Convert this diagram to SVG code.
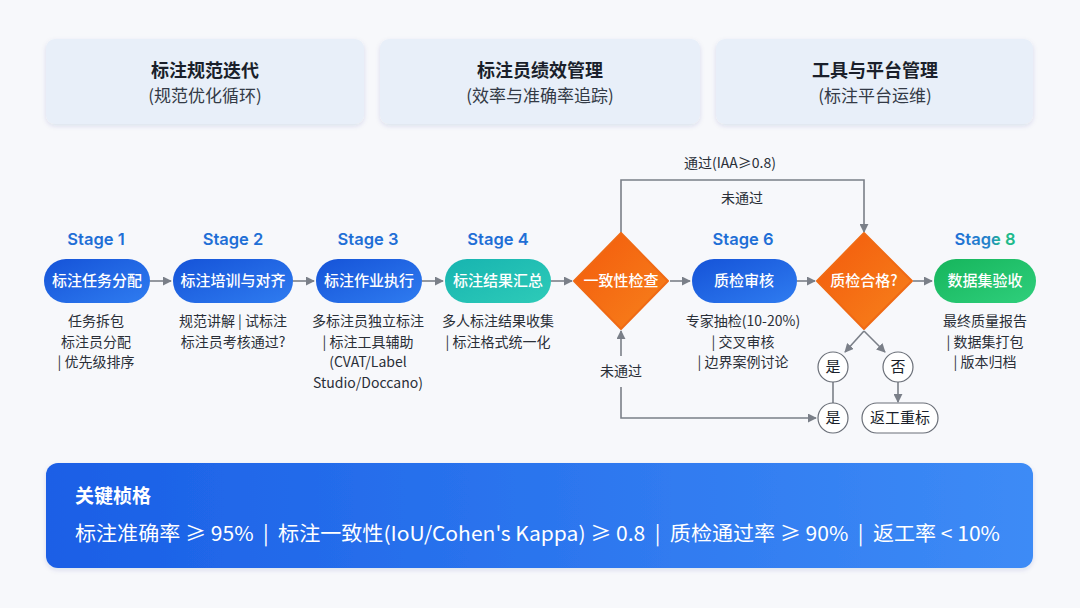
<svg xmlns="http://www.w3.org/2000/svg" width="1080" height="608" viewBox="0 0 1080 608">
<defs>
<linearGradient id="gBlue" x1="0" y1="0" x2="1" y2="1"><stop offset="0" stop-color="#1553d8"/><stop offset="1" stop-color="#2f7cf0"/></linearGradient>
<linearGradient id="gTeal" x1="0" y1="0" x2="1" y2="1"><stop offset="0" stop-color="#17b4b0"/><stop offset="1" stop-color="#2ecbb8"/></linearGradient>
<linearGradient id="gOrange" x1="0" y1="0" x2="1" y2="1"><stop offset="0" stop-color="#f35a0c"/><stop offset="1" stop-color="#f7821c"/></linearGradient>
<linearGradient id="gGreen" x1="0" y1="0" x2="1" y2="1"><stop offset="0" stop-color="#16b55c"/><stop offset="1" stop-color="#2fcf7c"/></linearGradient>
<linearGradient id="gPanel" x1="0" y1="0" x2="1" y2="0"><stop offset="0" stop-color="#1a5fe6"/><stop offset="1" stop-color="#3d8bf6"/></linearGradient>
<linearGradient id="gStage8" x1="0" y1="0" x2="1" y2="0"><stop offset="0" stop-color="#1f6fd6"/><stop offset="0.6" stop-color="#2585c8"/><stop offset="0.75" stop-color="#1fb98a"/><stop offset="1" stop-color="#1fb98a"/></linearGradient>
<filter id="sh" x="-10%" y="-10%" width="120%" height="130%"><feDropShadow dx="0" dy="2" stdDeviation="2.5" flood-color="#1a3a80" flood-opacity="0.12"/></filter>
<marker id="ah" viewBox="0 0 10 10" refX="9" refY="5" markerWidth="9" markerHeight="9" markerUnits="userSpaceOnUse" orient="auto"><path d="M0,0 L10,5 L0,10 z" fill="#7a7f88"/></marker>
</defs>
<style>
text{font-family:"Noto Sans CJK SC","Noto Sans",sans-serif;}
.topbox{fill:#e8eff9;}
.tt{font-size:18px;font-weight:700;fill:#1a1f2b;text-anchor:middle;}
.ts{font-size:17px;fill:#333a46;text-anchor:middle;}
.stage{font-family:Inter,"Noto Sans",sans-serif;font-size:16.5px;font-weight:600;fill:#1f6fd6;text-anchor:middle;}
.pt{font-size:15px;font-weight:500;fill:#ffffff;text-anchor:middle;}
.desc{font-size:14px;fill:#2a2f38;text-anchor:middle;}
.lbl{font-size:14px;fill:#2a2f38;text-anchor:middle;}
.conn{fill:none;stroke:#7a7f88;stroke-width:1.6;}
.circ{fill:#ffffff;stroke:#6a6f78;stroke-width:1.2;}
.ct{font-size:15px;fill:#1a1f2b;text-anchor:middle;}
</style>
<rect width="1080" height="608" fill="#f7f8fb"/>

<g id="box-spec"><rect class="topbox" x="46" y="39" width="318" height="85" rx="9" filter="url(#sh)"/><text class="tt" x="205" y="77">标注规范迭代</text><text class="ts" x="205" y="102">(规范优化循环)</text></g>
<g id="box-perf"><rect class="topbox" x="380" y="39" width="320" height="85" rx="9" filter="url(#sh)"/><text class="tt" x="540" y="77">标注员绩效管理</text><text class="ts" x="540" y="102">(效率与准确率追踪)</text></g>
<g id="box-tool"><rect class="topbox" x="716" y="39" width="317" height="85" rx="9" filter="url(#sh)"/><text class="tt" x="875" y="77">工具与平台管理</text><text class="ts" x="875" y="102">(标注平台运维)</text></g>

<g id="connectors">
<line class="conn" x1="150" y1="281" x2="171" y2="281" marker-end="url(#ah)"/>
<line class="conn" x1="293" y1="281" x2="314" y2="281" marker-end="url(#ah)"/>
<line class="conn" x1="422" y1="281" x2="443" y2="281" marker-end="url(#ah)"/>
<line class="conn" x1="551" y1="281" x2="572" y2="281" marker-end="url(#ah)"/>
<line class="conn" x1="670" y1="281" x2="690" y2="281" marker-end="url(#ah)"/>
<line class="conn" x1="797" y1="281" x2="815" y2="281" marker-end="url(#ah)"/>
<line class="conn" x1="913" y1="281" x2="932" y2="281" marker-end="url(#ah)"/>
<polyline class="conn" points="621,233 621,180 864,180 864,232" marker-end="url(#ah)"/>
<line class="conn" x1="621" y1="356" x2="621" y2="331" marker-end="url(#ah)"/>
<polyline class="conn" points="621,387 621,418 816,418" marker-end="url(#ah)"/>
<line class="conn" x1="864" y1="331" x2="845" y2="352" marker-end="url(#ah)"/>
<line class="conn" x1="864" y1="331" x2="885" y2="352" marker-end="url(#ah)"/>
<line class="conn" x1="833" y1="382" x2="833" y2="403"/>
<line class="conn" x1="898" y1="382" x2="898" y2="402" marker-end="url(#ah)"/>
<text class="lbl" x="730" y="168">通过(IAA≥0.8)</text>
<text class="lbl" x="742" y="203">未通过</text>
<text class="lbl" x="621" y="376">未通过</text>
</g>

<g id="stage1"><text class="stage" x="96" y="245">Stage 1</text><rect x="44" y="259" width="106" height="44" rx="22" fill="url(#gBlue)"/><text class="pt" x="97" y="286">标注任务分配</text>
<text class="desc" x="96" y="326">任务拆包</text><text class="desc" x="96" y="347">标注员分配</text><text class="desc" x="96" y="367">| 优先级排序</text></g>
<g id="stage2"><text class="stage" x="233" y="245">Stage 2</text><rect x="173" y="259" width="120" height="44" rx="22" fill="url(#gBlue)"/><text class="pt" x="233" y="286">标注培训与对齐</text>
<text class="desc" x="233" y="326">规范讲解 | 试标注</text><text class="desc" x="233" y="347">标注员考核通过?</text></g>
<g id="stage3"><text class="stage" x="368" y="245">Stage 3</text><rect x="316" y="259" width="106" height="44" rx="22" fill="url(#gBlue)"/><text class="pt" x="369" y="286">标注作业执行</text>
<text class="desc" x="368" y="326">多标注员独立标注</text><text class="desc" x="368" y="347">| 标注工具辅助</text><text class="desc" x="368" y="367">(CVAT/Label</text><text class="desc" x="368" y="388">Studio/Doccano)</text></g>
<g id="stage4"><text class="stage" x="498" y="245">Stage 4</text><rect x="445" y="259" width="106" height="44" rx="22" fill="url(#gTeal)"/><text class="pt" x="498" y="286">标注结果汇总</text>
<text class="desc" x="498" y="326">多人标注结果收集</text><text class="desc" x="498" y="347">| 标注格式统一化</text></g>
<g id="check1"><polygon points="621,233 668,281 621,329 574,281" fill="url(#gOrange)" stroke="#f06a14" stroke-width="2" stroke-linejoin="round"/><text class="pt" x="621" y="286">一致性检查</text></g>
<g id="stage6"><text class="stage" x="743" y="245">Stage 6</text><rect x="692" y="259" width="105" height="44" rx="22" fill="url(#gBlue)"/><text class="pt" x="744" y="286">质检审核</text>
<text class="desc" x="743" y="326">专家抽检(10-20%)</text><text class="desc" x="743" y="347">| 交叉审核</text><text class="desc" x="743" y="367">| 边界案例讨论</text></g>
<g id="check2"><polygon points="864,233 912,281 864,329 817,281" fill="url(#gOrange)" stroke="#f06a14" stroke-width="2" stroke-linejoin="round"/><text class="pt" x="864" y="286">质检合格?</text></g>
<g id="stage8"><text class="stage" x="985" y="245" style="fill:url(#gStage8)">Stage 8</text><rect x="934" y="259" width="102" height="44" rx="22" fill="url(#gGreen)"/><text class="pt" x="985" y="286">数据集验收</text>
<text class="desc" x="985" y="326">最终质量报告</text><text class="desc" x="985" y="347">| 数据集打包</text><text class="desc" x="985" y="367">| 版本归档</text></g>

<g id="yes1"><circle class="circ" cx="833" cy="367" r="15"/><text class="ct" x="833" y="372">是</text></g>
<g id="no1"><circle class="circ" cx="898" cy="367" r="15"/><text class="ct" x="898" y="372">否</text></g>
<g id="yes2"><circle class="circ" cx="833" cy="418" r="15"/><text class="ct" x="833" y="423">是</text></g>
<g id="rework"><rect class="circ" x="862" y="403" width="76" height="30" rx="15"/><text class="ct" x="900" y="423">返工重标</text></g>

<g id="kpi"><rect x="46" y="463" width="987" height="105" rx="12" fill="url(#gPanel)" filter="url(#sh)"/>
<text x="75" y="503" font-size="19" font-weight="700" fill="#ffffff">关键桢格</text>
<text x="75" y="541" font-size="20" fill="#ffffff" xml:space="preserve" style="white-space:pre" textLength="925" lengthAdjust="spacingAndGlyphs">标注准确率 ≥ 95%  |  标注一致性(IoU/Cohen's Kappa) ≥ 0.8  |  质检通过率 ≥ 90%  |  返工率 &lt; 10%</text></g>
</svg>
